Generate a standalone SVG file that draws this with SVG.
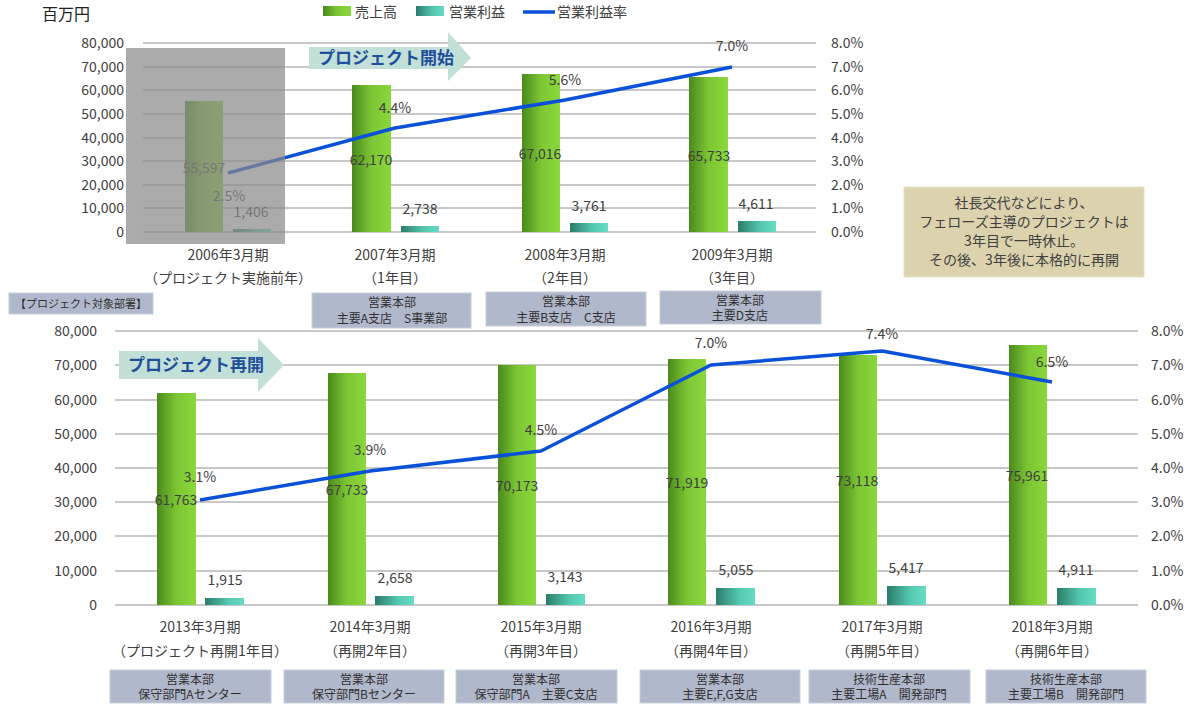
<svg xmlns="http://www.w3.org/2000/svg" width="1200" height="708" viewBox="0 0 1200 708">
<defs>
<linearGradient id="gG" x1="0" x2="1" y1="0" y2="0"><stop offset="0" stop-color="#4a8a1c"/><stop offset="0.5" stop-color="#7cc634"/><stop offset="1" stop-color="#8ad83c"/></linearGradient>
<linearGradient id="gT" x1="0" x2="1" y1="0" y2="0"><stop offset="0" stop-color="#2a7d6a"/><stop offset="0.6" stop-color="#55c8b0"/><stop offset="1" stop-color="#66dcc4"/></linearGradient>
<style>
text{font-family:"Noto Sans CJK JP","Liberation Sans",sans-serif;fill:#404040;font-size:14px}
.m{text-anchor:middle}.r{text-anchor:end}
.grid line{stroke:#c8c8c8;stroke-width:2}
.dept{fill:#b0b8cc;stroke:#c8cedb}
.d{font-size:12px;fill:#303030;text-anchor:middle}
.ar{fill:#c3e0d8}
.at{fill:#1f4e9a;font-weight:bold;font-size:17px}
.ln{fill:none;stroke:#0a50d8;stroke-width:3.5;stroke-linejoin:round}
</style>
</defs>
<rect width="1200" height="708" fill="#fff"/>
<text x="42" y="20" style="font-size:16px;fill:#222">百万円</text>
<g id="legend">
<rect x="323" y="6" width="28" height="10" fill="url(#gG)"/><text x="355" y="17">売上高</text>
<rect x="416" y="6" width="28" height="10" fill="url(#gT)"/><text x="449" y="17">営業利益</text>
<line x1="523" y1="12" x2="555" y2="12" stroke="#0a50d8" stroke-width="3.5"/><text x="557" y="17">営業利益率</text>
</g>
<g class="grid">
<line x1="143" y1="43" x2="816" y2="43"/><line x1="143" y1="67" x2="816" y2="67"/><line x1="143" y1="90" x2="816" y2="90"/><line x1="143" y1="114" x2="816" y2="114"/><line x1="143" y1="138" x2="816" y2="138"/><line x1="143" y1="161" x2="816" y2="161"/><line x1="143" y1="185" x2="816" y2="185"/><line x1="143" y1="208" x2="816" y2="208"/><line x1="143" y1="232" x2="816" y2="232"/>
<line x1="115" y1="331" x2="1138" y2="331"/><line x1="115" y1="365" x2="1138" y2="365"/><line x1="115" y1="400" x2="1138" y2="400"/><line x1="115" y1="434" x2="1138" y2="434"/><line x1="115" y1="468" x2="1138" y2="468"/><line x1="115" y1="502" x2="1138" y2="502"/><line x1="115" y1="536" x2="1138" y2="536"/><line x1="115" y1="571" x2="1138" y2="571"/><line x1="115" y1="605" x2="1138" y2="605"/>
</g>
<g id="axisTop">
<text class="r" x="124" y="48">80,000</text><text class="r" x="124" y="72">70,000</text><text class="r" x="124" y="95">60,000</text><text class="r" x="124" y="119">50,000</text><text class="r" x="124" y="143">40,000</text><text class="r" x="124" y="166">30,000</text><text class="r" x="124" y="190">20,000</text><text class="r" x="124" y="213">10,000</text><text class="r" x="124" y="237">0</text>
<text x="831" y="48">8.0%</text><text x="831" y="72">7.0%</text><text x="831" y="95">6.0%</text><text x="831" y="119">5.0%</text><text x="831" y="143">4.0%</text><text x="831" y="166">3.0%</text><text x="831" y="190">2.0%</text><text x="831" y="213">1.0%</text><text x="831" y="237">0.0%</text>
</g>
<g id="axisBottom">
<text class="r" x="97" y="336">80,000</text><text class="r" x="97" y="370">70,000</text><text class="r" x="97" y="405">60,000</text><text class="r" x="97" y="439">50,000</text><text class="r" x="97" y="473">40,000</text><text class="r" x="97" y="507">30,000</text><text class="r" x="97" y="541">20,000</text><text class="r" x="97" y="576">10,000</text><text class="r" x="97" y="610">0</text>
<text x="1151" y="336">8.0%</text><text x="1151" y="370">7.0%</text><text x="1151" y="405">6.0%</text><text x="1151" y="439">5.0%</text><text x="1151" y="473">4.0%</text><text x="1151" y="507">3.0%</text><text x="1151" y="541">2.0%</text><text x="1151" y="576">1.0%</text><text x="1151" y="610">0.0%</text>
</g>
<g id="barsTop">
<rect x="185" y="101" width="38" height="131" fill="url(#gG)"/><rect x="233" y="229" width="38" height="3" fill="url(#gT)"/>
<rect x="352" y="85" width="39" height="147" fill="url(#gG)"/><rect x="401" y="226" width="38" height="6" fill="url(#gT)"/>
<rect x="522" y="74" width="38" height="158" fill="url(#gG)"/><rect x="570" y="223" width="38" height="9" fill="url(#gT)"/>
<rect x="689" y="77" width="39" height="155" fill="url(#gG)"/><rect x="738" y="221" width="38" height="11" fill="url(#gT)"/>
</g>
<g id="barsBottom">
<rect x="157" y="393" width="39" height="212" fill="url(#gG)"/><rect x="205" y="598" width="39" height="7" fill="url(#gT)"/>
<rect x="328" y="373" width="38" height="232" fill="url(#gG)"/><rect x="375" y="596" width="39" height="9" fill="url(#gT)"/>
<rect x="498" y="365" width="38" height="240" fill="url(#gG)"/><rect x="546" y="594" width="39" height="11" fill="url(#gT)"/>
<rect x="668" y="359" width="38" height="246" fill="url(#gG)"/><rect x="716" y="588" width="39" height="17" fill="url(#gT)"/>
<rect x="839" y="355" width="38" height="250" fill="url(#gG)"/><rect x="887" y="586" width="39" height="19" fill="url(#gT)"/>
<rect x="1009" y="345" width="38" height="260" fill="url(#gG)"/><rect x="1057" y="588" width="39" height="17" fill="url(#gT)"/>
</g>
<g id="connectors">
<polyline class="ln" points="228,173 395,128 565,100 732,67"/>
<polyline class="ln" points="200,500 370,471 541,451 711,365 882,351 1052,382"/>
</g>
<g id="labelsTop">
<text class="m" x="204" y="173">55,597</text><text class="m" x="229" y="201">2.5%</text><text class="m" x="251" y="217">1,406</text>
<text class="m" x="371" y="165">62,170</text><text class="m" x="395" y="113">4.4%</text><text class="m" x="420" y="214">2,738</text>
<text class="m" x="540" y="159">67,016</text><text class="m" x="565" y="85">5.6%</text><text class="m" x="589" y="211">3,761</text>
<text class="m" x="709" y="161">65,733</text><text class="m" x="732" y="51">7.0%</text><text class="m" x="756" y="209">4,611</text>
</g>
<rect id="pastShade" x="126" y="48" width="159" height="196" fill="#8a8a8a" opacity="0.72"/>
<g id="catTop">
<text class="m" x="228" y="260">2006年3月期</text><text class="m" x="228" y="283">（プロジェクト実施前年）</text>
<text class="m" x="395" y="260">2007年3月期</text><text class="m" x="395" y="283">（1年目）</text>
<text class="m" x="565" y="260">2008年3月期</text><text class="m" x="565" y="283">（2年目）</text>
<text class="m" x="732" y="260">2009年3月期</text><text class="m" x="732" y="283">（3年目）</text>
</g>
<g id="arrowStart"><polygon class="ar" points="309,47 448,47 448,32 471,58 448,81 448,69 309,69"/><text class="at" x="318" y="64">プロジェクト開始</text></g>
<g id="note"><rect x="904" y="187" width="240" height="90" fill="#dcd2ae" stroke="#e6e0c8"/>
<text class="m" x="1024" y="208">社長交代などにより、</text><text class="m" x="1024" y="227">フェローズ主導のプロジェクトは</text><text class="m" x="1024" y="246">3年目で一時休止。</text><text class="m" x="1024" y="265">その後、3年後に本格的に再開</text></g>
<g id="deptTop">
<rect class="dept" x="9" y="293" width="144" height="21"/><text class="d" x="81" y="308" style="font-size:11px">【プロジェクト対象部署】</text>
<rect class="dept" x="312" y="293" width="159" height="35"/><text class="d" x="392" y="307">営業本部</text><text class="d" x="392" y="323">主要A支店　S事業部</text>
<rect class="dept" x="486" y="292" width="160" height="34"/><text class="d" x="566" y="306">営業本部</text><text class="d" x="566" y="322">主要B支店　C支店</text>
<rect class="dept" x="660" y="291" width="161" height="33"/><text class="d" x="740" y="305">営業本部</text><text class="d" x="740" y="320">主要D支店</text>
</g>
<polyline class="ln" points="200,500 370,471 541,451 711,365 882,351 1052,382" style="display:none"/>
<g id="labelsBottom">
<text class="m" x="176" y="505">61,763</text><text class="m" x="200" y="482">3.1%</text><text class="m" x="225" y="585">1,915</text>
<text class="m" x="347" y="495">67,733</text><text class="m" x="370" y="455">3.9%</text><text class="m" x="395" y="583">2,658</text>
<text class="m" x="517" y="491">70,173</text><text class="m" x="541" y="435">4.5%</text><text class="m" x="565" y="582">3,143</text>
<text class="m" x="687" y="488">71,919</text><text class="m" x="711" y="348">7.0%</text><text class="m" x="736" y="575">5,055</text>
<text class="m" x="857" y="486">73,118</text><text class="m" x="882" y="339">7.4%</text><text class="m" x="906" y="573">5,417</text>
<text class="m" x="1027" y="481">75,961</text><text class="m" x="1052" y="367">6.5%</text><text class="m" x="1076" y="575">4,911</text>
</g>
<g id="catBottom">
<text class="m" x="200" y="632">2013年3月期</text><text class="m" x="200" y="656">（プロジェクト再開1年目）</text>
<text class="m" x="370" y="632">2014年3月期</text><text class="m" x="370" y="656">（再開2年目）</text>
<text class="m" x="541" y="632">2015年3月期</text><text class="m" x="541" y="656">（再開3年目）</text>
<text class="m" x="711" y="632">2016年3月期</text><text class="m" x="711" y="656">（再開4年目）</text>
<text class="m" x="882" y="632">2017年3月期</text><text class="m" x="882" y="656">（再開5年目）</text>
<text class="m" x="1052" y="632">2018年3月期</text><text class="m" x="1052" y="656">（再開6年目）</text>
</g>
<g id="arrowRestart"><polygon class="ar" points="119,351 258,351 258,338 284,365 258,392 258,379 119,379"/><text class="at" x="128" y="371">プロジェクト再開</text></g>
<g id="deptBottom">
<rect class="dept" x="110" y="670" width="161" height="33"/><text class="d" x="190" y="684">営業本部</text><text class="d" x="190" y="699">保守部門Aセンター</text>
<rect class="dept" x="284" y="670" width="160" height="33"/><text class="d" x="364" y="684">営業本部</text><text class="d" x="364" y="699">保守部門Bセンター</text>
<rect class="dept" x="456" y="670" width="161" height="33"/><text class="d" x="536" y="684">営業本部</text><text class="d" x="536" y="699">保守部門A　主要C支店</text>
<rect class="dept" x="640" y="670" width="160" height="33"/><text class="d" x="720" y="684">営業本部</text><text class="d" x="720" y="699">主要E,F,G支店</text>
<rect class="dept" x="809" y="670" width="161" height="33"/><text class="d" x="889" y="684">技術生産本部</text><text class="d" x="889" y="699">主要工場A　開発部門</text>
<rect class="dept" x="986" y="670" width="160" height="33"/><text class="d" x="1066" y="684">技術生産本部</text><text class="d" x="1066" y="699">主要工場B　開発部門</text>
</g>
</svg>
